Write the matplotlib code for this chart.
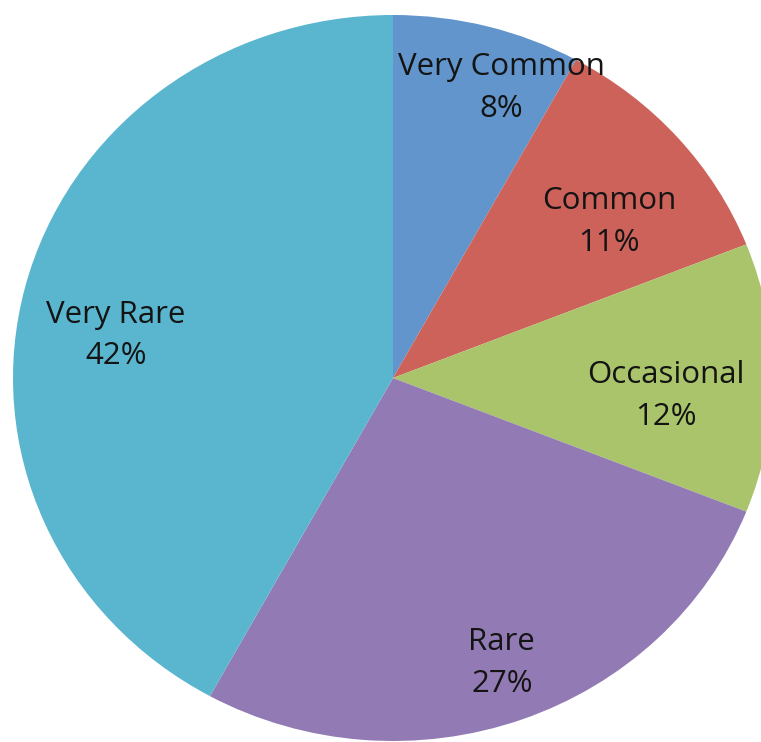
import matplotlib
matplotlib.use('Agg')
import matplotlib.pyplot as plt
import numpy as np

# frequency classes, clockwise from 12 o'clock
categories = ['Very Common', 'Common', 'Occasional', 'Rare', 'Very Rare']
shares = [8, 11, 12, 27, 42]
colors = ['#6195CC', '#CD625A', '#A9C46B', '#927BB4', '#5AB6CF']

# label placement (fraction of radius, angle shift in degrees) - excel "best fit" look
label_r = [0.86, 0.72, 0.72, 0.825, 0.74]
label_shift = [-5, -3.5, -3, 0.5, 4.4]

fig = plt.figure(figsize=(7.61, 7.42), dpi=100)
ax = fig.add_axes([0, 0, 1, 1])

wedges, _ = ax.pie(shares, colors=colors, startangle=90, counterclock=False,
                   radius=1.0, wedgeprops=dict(linewidth=0))

for w, name, pct, r, sh in zip(wedges, categories, shares, label_r, label_shift):
    mid = np.radians((w.theta1 + w.theta2) / 2 + sh)
    ax.text(r * np.cos(mid), r * np.sin(mid) - 0.012, name + '\n' + str(pct) + '%',
            ha='center', va='center', fontsize=22.5, family='Open Sans',
            color='#141414', linespacing=1.5)

# the original pie is a bit wider than tall and cut off on the right
rx, ry = 380.0, 363.0
cx, cy = 393.0, 378.0
ax.set_aspect('auto')
ax.set_xlim(-cx / rx, (761 - cx) / rx)
ax.set_ylim(-(742 - cy) / ry, cy / ry)
ax.axis('off')

fig.savefig('out.png', dpi=100)
